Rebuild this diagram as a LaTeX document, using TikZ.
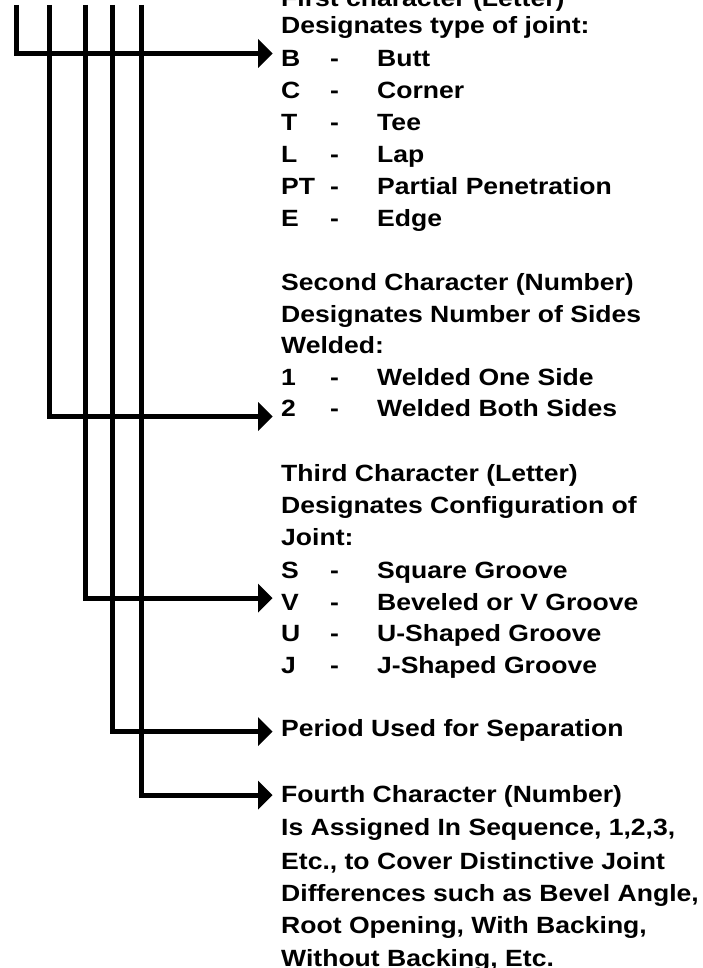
\documentclass[tikz,border=0pt]{standalone}
\usepackage{fontspec}
\setmainfont{Liberation Sans}[FakeStretch=1.13]
\usetikzlibrary{arrows.meta}
\newcommand\jrow[3]{\makebox[49pt][l]{#1}\makebox[47pt][l]{#2}#3}
\begin{document}
\begin{tikzpicture}[x=1pt,y=-1pt,
  lbl/.style={anchor=base west, inner sep=0pt, font=\fontsize{23.5}{28}\selectfont\bfseries},
  conn/.style={line width=5pt, line join=miter, line cap=butt,
    -{Triangle[length=14.5pt,width=29pt,line width=0pt]}}]
\useasboundingbox (0,0) rectangle (703,968);
\clip (0,0) rectangle (703,968);
% block 1
\node[lbl] (h1) at (281,6.5) {First character (Letter)};
\node[lbl] (d1) at (281,33.3) {Designates type of joint:};
\node[lbl] (rB) at (281,66.7) {\jrow{B}{-}{Butt}};
\node[lbl] (rC) at (281,98.5) {\jrow{C}{-}{Corner}};
\node[lbl] (rT) at (281,130.4) {\jrow{T}{-}{Tee}};
\node[lbl] (rL) at (281,162.3) {\jrow{L}{-}{Lap}};
\node[lbl] (rPT) at (281,194.1) {\jrow{PT}{-}{Partial Penetration}};
\node[lbl] (rE) at (281,226) {\jrow{E}{-}{Edge}};
% block 2
\node[lbl] (h2) at (281,290.5) {Second Character (Number)};
\node[lbl] (d2a) at (281,322) {Designates Number of Sides};
\node[lbl] (d2b) at (281,353.5) {Welded:};
\node[lbl] (r1) at (281,385) {\jrow{1}{-}{Welded One Side}};
\node[lbl] (r2) at (281,416.5) {\jrow{2}{-}{Welded Both Sides}};
% block 3
\node[lbl] (h3) at (281,481.3) {Third Character (Letter)};
\node[lbl] (d3a) at (281,513.3) {Designates Configuration of};
\node[lbl] (d3b) at (281,545.3) {Joint:};
\node[lbl] (rS) at (281,578.3) {\jrow{S}{-}{Square Groove}};
\node[lbl] (rV) at (281,610.3) {\jrow{V}{-}{Beveled or V Groove}};
\node[lbl] (rU) at (281,641.8) {\jrow{U}{-}{U-Shaped Groove}};
\node[lbl] (rJ) at (281,673.5) {\jrow{J}{-}{J-Shaped Groove}};
% block 4
\node[lbl] (p4) at (281,736.3) {Period Used for Separation};
% block 5
\node[lbl] (h5) at (281,802) {Fourth Character (Number)};
\node[lbl] (l5a) at (281,835.5) {Is Assigned In Sequence, 1,2,3,};
\node[lbl] (l5b) at (281,869) {Etc., to Cover Distinctive Joint};
\node[lbl] (l5c) at (281,901.5) {Differences such as Bevel Angle,};
\node[lbl] (l5d) at (281,933.5) {Root Opening, With Backing,};
\node[lbl] (l5e) at (281,966) {Without Backing, Etc.};
% connectors
\coordinate (t1) at (16.5,5);
\coordinate (t2) at (49,5);
\coordinate (t3) at (85,5);
\coordinate (t4) at (112.5,5);
\coordinate (t5) at (141.7,5);
\coordinate (e1) at (272.5,53.5);
\coordinate (e2) at (272.5,416.5);
\coordinate (e3) at (272.5,598);
\coordinate (e4) at (272.5,731.5);
\coordinate (e5) at (272.5,795);
\draw[conn] (t1) |- (e1);
\draw[conn] (t2) |- (e2);
\draw[conn] (t3) |- (e3);
\draw[conn] (t4) |- (e4);
\draw[conn] (t5) |- (e5);
\end{tikzpicture}
\end{document}
